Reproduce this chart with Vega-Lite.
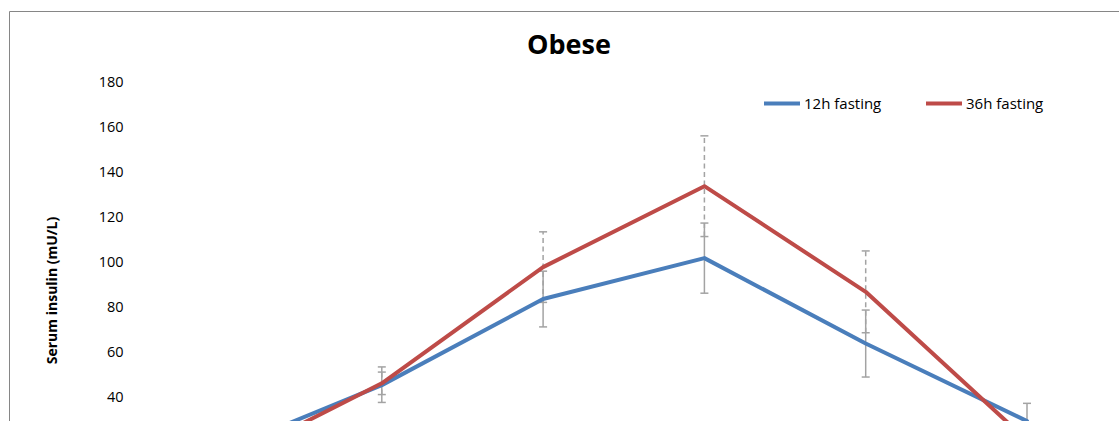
{
  "$schema": "https://vega.github.io/schema/vega-lite/v6.json",
  "width": 1120,
  "height": 520,
  "autosize": {"type": "none"},
  "padding": {"left": 9, "top": 11, "right": 0, "bottom": 0},
  "background": "white",
  "title": {
    "text": "Obese",
    "font": "Open Sans",
    "fontSize": 27,
    "fontWeight": "bold",
    "color": "#000000",
    "anchor": "middle",
    "frame": "group",
    "baseline": "alphabetic",
    "offset": 0,
    "dy": 70
  },
  "config": {
    "view": {"stroke": "#868686", "strokeWidth": 1},
    "font": "Open Sans",
    "axisY": {
      "tickCount": 9,
      "offset": -116,
      "minExtent": 0,
      "maxExtent": 0,
      "domain": false,
      "ticks": false,
      "grid": false,
      "labelPadding": 2,
      "labelFont": "Open Sans",
      "labelFontSize": 14.5,
      "labelColor": "#000000",
      "titleFont": "Open Sans",
      "titleFontSize": 14,
      "titleFontWeight": "bold",
      "titleColor": "#000000",
      "titleAngle": -90,
      "titleAlign": "center",
      "titleBaseline": "middle",
      "titleX": -73,
      "titleY": 279
    }
  },
  "data": {
    "values": [
      {"minute": "0", "group": "12h fasting", "insulin": 16, "lo": 11, "hi": 21},
      {"minute": "30", "group": "12h fasting", "insulin": 45.5, "lo": 37.8, "hi": 53.6},
      {"minute": "60", "group": "12h fasting", "insulin": 83.8, "lo": 71.4, "hi": 96.2},
      {"minute": "90", "group": "12h fasting", "insulin": 102, "lo": 86.4, "hi": 117.6},
      {"minute": "120", "group": "12h fasting", "insulin": 64, "lo": 49.1, "hi": 78.9},
      {"minute": "180", "group": "12h fasting", "insulin": 29.5, "lo": 21.6, "hi": 37.4},
      {"minute": "0", "group": "36h fasting", "insulin": 10, "lo": 5, "hi": 15},
      {"minute": "30", "group": "36h fasting", "insulin": 46.3, "lo": 41.3, "hi": 51.3},
      {"minute": "60", "group": "36h fasting", "insulin": 98, "lo": 82.3, "hi": 113.7},
      {"minute": "90", "group": "36h fasting", "insulin": 134, "lo": 111.6, "hi": 156.4},
      {"minute": "120", "group": "36h fasting", "insulin": 87, "lo": 68.8, "hi": 105.2},
      {"minute": "180", "group": "36h fasting", "insulin": 21, "lo": 15, "hi": 27}
    ]
  },
  "encoding": {
    "x": {
      "field": "minute",
      "type": "ordinal",
      "scale": {"type": "point", "domain": ["0", "30", "60", "90", "120", "180"], "range": [211.5, 1018], "padding": 0},
      "axis": null
    }
  },
  "layer": [
    {
      "transform": [{"filter": "datum.group === '36h fasting'"}],
      "mark": {"type": "rule", "color": "#A3A3A3", "strokeWidth": 1.5, "strokeDash": [5, 3.5]},
      "encoding": {
        "y": {"field": "lo", "type": "quantitative", "title": "Serum insulin (mU/L)", "scale": {"domain": [0, 180], "range": [476.4, 71.8], "nice": false, "zero": false}},
        "y2": {"field": "hi"}
      }
    },
    {
      "transform": [{"filter": "datum.group === '36h fasting'"}],
      "mark": {"type": "tick", "orient": "horizontal", "size": 8, "thickness": 1.5, "color": "#A3A3A3", "opacity": 1},
      "encoding": {
        "y": {"field": "lo", "type": "quantitative", "title": "Serum insulin (mU/L)", "scale": {"domain": [0, 180], "range": [476.4, 71.8], "nice": false, "zero": false}}
      }
    },
    {
      "transform": [{"filter": "datum.group === '36h fasting'"}],
      "mark": {"type": "tick", "orient": "horizontal", "size": 8, "thickness": 1.5, "color": "#A3A3A3", "opacity": 1},
      "encoding": {
        "y": {"field": "hi", "type": "quantitative", "title": "Serum insulin (mU/L)", "scale": {"domain": [0, 180], "range": [476.4, 71.8], "nice": false, "zero": false}}
      }
    },
    {
      "transform": [{"filter": "datum.group === '12h fasting'"}],
      "mark": {"type": "rule", "color": "#A3A3A3", "strokeWidth": 1.5},
      "encoding": {
        "y": {"field": "lo", "type": "quantitative", "title": "Serum insulin (mU/L)", "scale": {"domain": [0, 180], "range": [476.4, 71.8], "nice": false, "zero": false}},
        "y2": {"field": "hi"}
      }
    },
    {
      "transform": [{"filter": "datum.group === '12h fasting'"}],
      "mark": {"type": "tick", "orient": "horizontal", "size": 8, "thickness": 1.5, "color": "#A3A3A3", "opacity": 1},
      "encoding": {
        "y": {"field": "lo", "type": "quantitative", "title": "Serum insulin (mU/L)", "scale": {"domain": [0, 180], "range": [476.4, 71.8], "nice": false, "zero": false}}
      }
    },
    {
      "transform": [{"filter": "datum.group === '12h fasting'"}],
      "mark": {"type": "tick", "orient": "horizontal", "size": 8, "thickness": 1.5, "color": "#A3A3A3", "opacity": 1},
      "encoding": {
        "y": {"field": "hi", "type": "quantitative", "title": "Serum insulin (mU/L)", "scale": {"domain": [0, 180], "range": [476.4, 71.8], "nice": false, "zero": false}}
      }
    },
    {
      "mark": {"type": "line", "strokeWidth": 4, "strokeJoin": "round", "strokeCap": "round"},
      "encoding": {
        "y": {"field": "insulin", "type": "quantitative", "title": "Serum insulin (mU/L)", "scale": {"domain": [0, 180], "range": [476.4, 71.8], "nice": false, "zero": false}},
        "color": {
          "field": "group",
          "type": "nominal",
          "scale": {"domain": ["12h fasting", "36h fasting"], "range": ["#4A7EBB", "#BE4B48"]},
          "legend": {
            "title": null,
            "orient": "none",
            "direction": "horizontal",
            "legendX": 753,
            "legendY": 72.5,
            "padding": 0,
            "symbolType": "stroke",
            "symbolSize": 1296,
            "symbolStrokeWidth": 4,
            "labelFont": "Open Sans",
            "labelFontSize": 15,
            "labelColor": "#000000",
            "labelOffset": 2,
            "columnPadding": 36
          }
        }
      }
    }
  ]
}
